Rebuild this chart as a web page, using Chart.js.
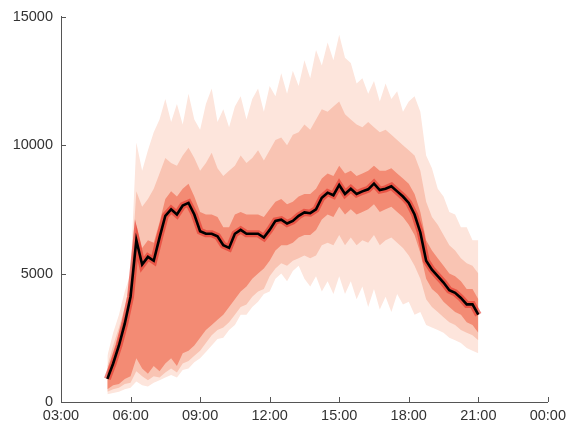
<!DOCTYPE html>
<html>
<head>
<meta charset="utf-8">
<script src="https://cdn.jsdelivr.net/npm/chart.js@4.4.1/dist/chart.umd.min.js"></script>
<style>
html,body{margin:0;padding:0;background:#fff;}
#wrap{width:571px;height:428px;}
</style>
</head>
<body>
<div id="wrap"><canvas id="c" width="571" height="428"></canvas></div>
<script>
// time of day in hours (15-minute steps, 05:00 .. 21:00)
const hours = [5,5.25,5.5,5.75,6,6.25,6.5,6.75,7,7.25,7.5,7.75,8,8.25,8.5,8.75,9,9.25,9.5,9.75,10,10.25,10.5,10.75,11,11.25,11.5,11.75,12,12.25,12.5,12.75,13,13.25,13.5,13.75,14,14.25,14.5,14.75,15,15.25,15.5,15.75,16,16.25,16.5,16.75,17,17.25,17.5,17.75,18,18.25,18.5,18.75,19,19.25,19.5,19.75,20,20.25,20.5,20.75,21];

const median = [900,1500,2200,3050,4100,6300,5350,5650,5500,6400,7250,7500,7300,7650,7750,7300,6650,6550,6550,6450,6100,6000,6550,6700,6550,6550,6550,6400,6700,7050,7100,6950,7050,7250,7380,7350,7500,7950,8150,8050,8450,8100,8300,8100,8200,8280,8500,8250,8300,8400,8200,8000,7750,7300,6600,5500,5150,4900,4650,4350,4250,4050,3800,3800,3400];

// outer band (lightest)
const upperOuter = [1800,2700,3400,4300,5000,10100,9000,9800,10500,11000,11800,10900,11600,10800,12000,11000,10600,11600,12200,10900,11400,10700,11500,11900,11000,11800,12200,11300,12300,11900,12800,12000,12900,12300,13300,12600,13700,13100,14000,13300,14300,13400,13200,12400,12600,12000,12500,11700,12400,11800,12100,11300,11700,11900,11300,9600,9100,8300,8000,7400,7300,6800,6800,6300,6300];
const lowerOuter = [300,350,400,500,550,800,650,600,750,850,950,1050,950,1250,1300,1550,1700,1950,2200,2450,2500,2800,3000,3400,3400,3700,3900,4200,4300,4800,5000,4700,5100,5300,4800,4500,4900,4300,4700,4200,4900,4200,4700,4000,4500,3700,4400,3600,4100,3500,4200,3800,3900,3400,3500,3000,2900,2800,2700,2500,2400,2300,2100,2000,1900];

// middle band
const upperMid = [1400,2200,2900,3700,4700,8200,7600,7900,8300,8900,9500,9300,9200,9600,9900,9500,9000,9300,9700,9100,8800,9000,9200,9600,9300,9500,9800,9400,9800,10200,10300,10000,10400,10500,10800,10600,11000,11400,11300,11500,11700,11200,11000,10800,10700,10900,10700,10500,10600,10400,10200,10000,9800,9600,9000,7800,7200,6900,6500,6100,5900,5600,5400,5300,5000];
const lowerMid = [400,500,550,700,750,1200,1000,850,1000,950,1150,1300,1150,1500,1600,1800,2000,2300,2600,2800,2900,3100,3400,3700,3800,4100,4300,4400,4900,5200,5400,5300,5500,5600,5700,5600,5700,6100,6200,6100,6500,6100,6400,6100,6300,6200,6500,6100,6300,6400,6200,6000,5700,5300,4800,4000,3700,3500,3300,3100,3000,2800,2700,2600,2400];

// inner band (salmon)
const upperInner = [1150,1850,2550,3350,4400,6900,6000,6300,6200,7000,7900,8200,8000,8300,8500,8000,7400,7300,7300,7200,6800,6800,7300,7400,7300,7300,7300,7200,7500,7800,7900,7700,7800,8000,8100,8100,8300,8700,8900,8800,9200,8900,9000,8800,8900,9000,9200,9000,9000,9100,8900,8700,8500,8100,7400,6300,5900,5600,5300,5000,4900,4700,4400,4400,4000];
const lowerInner = [500,650,700,900,1000,1700,1300,1100,1400,1200,1500,1700,1400,1900,2000,2200,2500,2800,3000,3200,3400,3700,4000,4300,4500,4800,5000,5200,5500,5900,6100,6100,6200,6400,6500,6500,6700,7100,7300,7200,7600,7300,7500,7300,7400,7500,7700,7400,7500,7600,7400,7200,6900,6500,5800,4800,4400,4200,3900,3700,3500,3400,3100,3000,2700];

const xTicks = [3,6,9,12,15,18,21,24];
const yTicks = [0,5000,10000,15000];

const pts = arr => hours.map((h,i)=>({x:h,y:arr[i]}));
const base = {pointRadius:0, borderWidth:0, tension:0};

const data = {
  datasets: [
    Object.assign({}, base, {label:'median', data:pts(median), borderColor:'#000', borderWidth:2.6, order:0, fill:false}),
    Object.assign({}, base, {label:'glow', data:pts(median), borderColor:'rgba(228,50,40,0.6)', borderWidth:7, order:1, fill:false}),
    Object.assign({}, base, {label:'u3', data:pts(upperInner), order:2, fill:false}),
    Object.assign({}, base, {label:'l3', data:pts(lowerInner), order:2, fill:2, backgroundColor:'#f38b74'}),
    Object.assign({}, base, {label:'u2', data:pts(upperMid), order:3, fill:false}),
    Object.assign({}, base, {label:'l2', data:pts(lowerMid), order:3, fill:4, backgroundColor:'#f9c4b3'}),
    Object.assign({}, base, {label:'u1', data:pts(upperOuter), order:4, fill:false}),
    Object.assign({}, base, {label:'l1', data:pts(lowerOuter), order:4, fill:6, backgroundColor:'#fde5dc'})
  ]
};

const inwardTicks = {
  id:'inwardTicks',
  afterDraw(chart){
    const ctx = chart.ctx, xs = chart.scales.x, ys = chart.scales.y;
    ctx.save();
    ctx.strokeStyle = '#555';
    ctx.lineWidth = 1;
    ctx.beginPath();
    xTicks.forEach(v=>{ const p = Math.round(xs.getPixelForValue(v))+0.5; ctx.moveTo(p, ys.bottom); ctx.lineTo(p, ys.bottom-5); });
    yTicks.forEach(v=>{ const p = Math.round(ys.getPixelForValue(v))+0.5; ctx.moveTo(xs.left, p); ctx.lineTo(xs.left+5, p); });
    ctx.stroke();
    ctx.restore();
  }
};

const fontSpec = {family:'"Liberation Sans", Arial, Helvetica, sans-serif', size:14.5};

new Chart(document.getElementById('c'), {
  type:'line',
  data,
  options:{
    responsive:false,
    animation:false,
    events:[],
    layout:{padding:{top:15, right:17, left:0, bottom:0}},
    plugins:{legend:{display:false}, tooltip:{enabled:false}, filler:{propagate:false}},
    scales:{
      x:{
        type:'linear', min:3, max:24,
        afterBuildTicks: s => { s.ticks = xTicks.map(v=>({value:v})); },
        afterFit: s => { s.height = 26; },
        grid:{display:true, drawOnChartArea:false, drawTicks:false},
        border:{display:true, color:'#555', width:1},
        ticks:{color:'#333', font:fontSpec, padding:5, maxRotation:0, autoSkip:false,
          callback: v => String(v % 24).padStart(2,'0') + ':00'}
      },
      y:{
        min:0, max:15000,
        afterBuildTicks: s => { s.ticks = yTicks.map(v=>({value:v})); },
        afterFit: s => { s.width = 61; },
        grid:{display:true, drawOnChartArea:false, drawTicks:false},
        border:{display:true, color:'#555', width:1},
        ticks:{color:'#333', font:fontSpec, padding:8, callback: v => String(v)}
      }
    }
  },
  plugins:[inwardTicks]
});
</script>
</body>
</html>
